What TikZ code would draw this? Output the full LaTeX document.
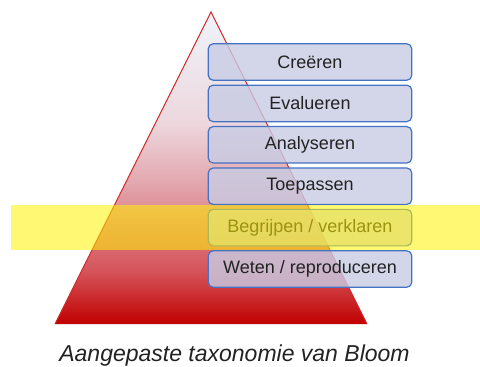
\documentclass[tikz,border=0pt]{standalone}
\usepackage{fontspec}
\setmainfont{Liberation Sans}
\definecolor{pyrbot}{RGB}{192,0,0}
\definecolor{pyrm1}{RGB}{213,84,90}
\definecolor{pyrm2}{RGB}{227,169,176}
\definecolor{pyrm3}{RGB}{237,216,222}
\definecolor{pyrtop}{RGB}{238,244,250}
\definecolor{pyredge}{RGB}{208,40,40}
\definecolor{boxfill}{RGB}{200,204,228}
\definecolor{boxline}{RGB}{68,114,196}
\definecolor{txt}{RGB}{34,34,34}
\pgfdeclareverticalshading{pyrshade}{100bp}{color(0bp)=(pyrbot); color(25bp)=(pyrbot); color(33.5bp)=(pyrm1); color(48bp)=(pyrm2); color(57.5bp)=(pyrm3); color(75bp)=(pyrtop); color(100bp)=(pyrtop)}
\tikzset{
  level/.style={draw=boxline, line width=1.2pt, fill=boxfill, fill opacity=0.8, text opacity=1,
    rounded corners=5pt, minimum width=203.5pt, minimum height=36.5pt, inner sep=0pt,
    text=txt, font=\fontsize{18}{20}\selectfont},
}
\begin{document}
\begin{tikzpicture}[x=1pt,y=-1pt]
\useasboundingbox (0,0) rectangle (480,367);
% pyramid
\shade[shading=pyrshade] (211,12) -- (367,324) -- (55,324) -- cycle;
\draw[pyredge, line width=0.9pt, line join=miter] (55,324) -- (211,12) -- (367,324);
% levels
\node[level] (creeren) at (310,62) {Creëren};
\node[level] (evalueren) at (310,103.4) {Evalueren};
\node[level] (analyseren) at (310,144.8) {Analyseren};
\node[level] (toepassen) at (310,186.2) {Toepassen};
\node[level] (begrijpen) at (310,227.6) {Begrijpen / verklaren};
\node[level] (weten) at (310,269) {Weten / reproduceren};
% highlight band
\fill[yellow, fill opacity=0.55] (11,205) rectangle (480,250);
% caption
\node[anchor=base, text=txt, font=\fontsize{23}{26}\selectfont\itshape] (caption) at (234.5,361.5) {Aangepaste taxonomie van Bloom};
\end{tikzpicture}
\end{document}
